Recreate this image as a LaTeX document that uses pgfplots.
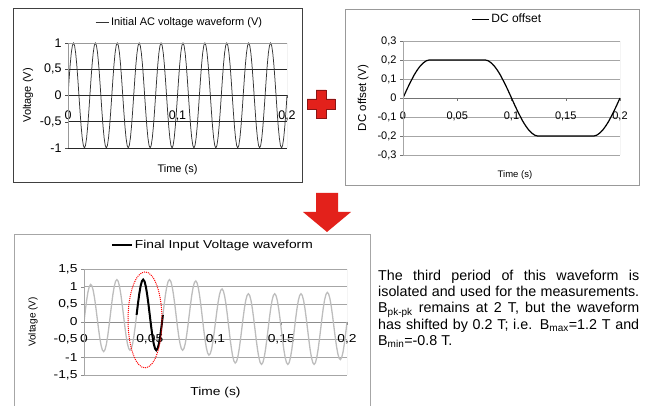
\documentclass[border=0pt]{standalone}
\usepackage{fontspec}
\setmainfont{Liberation Sans}
\newfontfamily\widesans[FakeStretch=1.2]{Liberation Sans}
\usepackage{pgfplots}
\usepackage{pgfplotstable}
\pgfplotsset{compat=1.18}
\hyphenpenalty=10000
\exhyphenpenalty=10000

\definecolor{arrowred}{HTML}{E3211B}
\definecolor{darkred}{HTML}{8A1414}
\definecolor{curvegray}{HTML}{BDBDBD}

% t = time (s), ac = initial sine, dc = offset, fin = ac + dc
\pgfplotstableread{
t ac dc fin
0.000 0 0 0
0.001 0.309 0.013 0.322
0.002 0.588 0.025 0.613
0.003 0.809 0.038 0.847
0.004 0.951 0.050 1.001
0.005 1 0.062 1.062
0.006 0.951 0.074 1.025
0.007 0.809 0.085 0.894
0.008 0.588 0.096 0.684
0.009 0.309 0.107 0.416
0.010 0 0.118 0.118
0.011 -0.309 0.128 -0.181
0.012 -0.588 0.137 -0.451
0.013 -0.809 0.146 -0.663
0.014 -0.951 0.154 -0.797
0.015 -1 0.162 -0.838
0.016 -0.951 0.169 -0.782
0.017 -0.809 0.175 -0.634
0.018 -0.588 0.181 -0.407
0.019 -0.309 0.186 -0.123
0.020 0 0.190 0.190
0.021 0.309 0.194 0.503
0.022 0.588 0.197 0.785
0.023 0.809 0.198 1.007
0.024 0.951 0.200 1.151
0.025 1 0.2 1.2
0.026 0.951 0.2 1.151
0.027 0.809 0.2 1.009
0.028 0.588 0.2 0.788
0.029 0.309 0.2 0.509
0.030 0 0.2 0.2
0.031 -0.309 0.2 -0.109
0.032 -0.588 0.2 -0.388
0.033 -0.809 0.2 -0.609
0.034 -0.951 0.2 -0.751
0.035 -1 0.2 -0.8
0.036 -0.951 0.2 -0.751
0.037 -0.809 0.2 -0.609
0.038 -0.588 0.2 -0.388
0.039 -0.309 0.2 -0.109
0.040 0 0.2 0.2
0.041 0.309 0.2 0.509
0.042 0.588 0.2 0.788
0.043 0.809 0.2 1.009
0.044 0.951 0.2 1.151
0.045 1 0.2 1.2
0.046 0.951 0.2 1.151
0.047 0.809 0.2 1.009
0.048 0.588 0.2 0.788
0.049 0.309 0.2 0.509
0.050 0 0.2 0.2
0.051 -0.309 0.2 -0.109
0.052 -0.588 0.2 -0.388
0.053 -0.809 0.2 -0.609
0.054 -0.951 0.2 -0.751
0.055 -1 0.2 -0.8
0.056 -0.951 0.2 -0.751
0.057 -0.809 0.2 -0.609
0.058 -0.588 0.2 -0.388
0.059 -0.309 0.2 -0.109
0.060 0 0.2 0.2
0.061 0.309 0.2 0.509
0.062 0.588 0.2 0.788
0.063 0.809 0.2 1.009
0.064 0.951 0.2 1.151
0.065 1 0.2 1.2
0.066 0.951 0.2 1.151
0.067 0.809 0.2 1.009
0.068 0.588 0.2 0.788
0.069 0.309 0.2 0.509
0.070 0 0.2 0.2
0.071 -0.309 0.2 -0.109
0.072 -0.588 0.2 -0.388
0.073 -0.809 0.2 -0.609
0.074 -0.951 0.2 -0.751
0.075 -1 0.2 -0.8
0.076 -0.951 0.200 -0.751
0.077 -0.809 0.198 -0.611
0.078 -0.588 0.197 -0.391
0.079 -0.309 0.194 -0.115
0.080 0 0.190 0.190
0.081 0.309 0.186 0.495
0.082 0.588 0.181 0.769
0.083 0.809 0.175 0.984
0.084 0.951 0.169 1.120
0.085 1 0.162 1.162
0.086 0.951 0.154 1.105
0.087 0.809 0.146 0.955
0.088 0.588 0.137 0.725
0.089 0.309 0.128 0.437
0.090 0 0.118 0.118
0.091 -0.309 0.107 -0.202
0.092 -0.588 0.096 -0.492
0.093 -0.809 0.085 -0.724
0.094 -0.951 0.074 -0.877
0.095 -1 0.062 -0.938
0.096 -0.951 0.050 -0.901
0.097 -0.809 0.038 -0.771
0.098 -0.588 0.025 -0.563
0.099 -0.309 0.013 -0.296
0.100 0 0 0
0.101 0.309 -0.013 0.296
0.102 0.588 -0.025 0.563
0.103 0.809 -0.038 0.771
0.104 0.951 -0.050 0.901
0.105 1 -0.062 0.938
0.106 0.951 -0.074 0.877
0.107 0.809 -0.085 0.724
0.108 0.588 -0.096 0.492
0.109 0.309 -0.107 0.202
0.110 0 -0.118 -0.118
0.111 -0.309 -0.128 -0.437
0.112 -0.588 -0.137 -0.725
0.113 -0.809 -0.146 -0.955
0.114 -0.951 -0.154 -1.105
0.115 -1 -0.162 -1.162
0.116 -0.951 -0.169 -1.120
0.117 -0.809 -0.175 -0.984
0.118 -0.588 -0.181 -0.769
0.119 -0.309 -0.186 -0.495
0.120 0 -0.190 -0.190
0.121 0.309 -0.194 0.115
0.122 0.588 -0.197 0.391
0.123 0.809 -0.198 0.611
0.124 0.951 -0.200 0.751
0.125 1 -0.2 0.8
0.126 0.951 -0.2 0.751
0.127 0.809 -0.2 0.609
0.128 0.588 -0.2 0.388
0.129 0.309 -0.2 0.109
0.130 0 -0.2 -0.2
0.131 -0.309 -0.2 -0.509
0.132 -0.588 -0.2 -0.788
0.133 -0.809 -0.2 -1.009
0.134 -0.951 -0.2 -1.151
0.135 -1 -0.2 -1.2
0.136 -0.951 -0.2 -1.151
0.137 -0.809 -0.2 -1.009
0.138 -0.588 -0.2 -0.788
0.139 -0.309 -0.2 -0.509
0.140 0 -0.2 -0.2
0.141 0.309 -0.2 0.109
0.142 0.588 -0.2 0.388
0.143 0.809 -0.2 0.609
0.144 0.951 -0.2 0.751
0.145 1 -0.2 0.8
0.146 0.951 -0.2 0.751
0.147 0.809 -0.2 0.609
0.148 0.588 -0.2 0.388
0.149 0.309 -0.2 0.109
0.150 0 -0.2 -0.2
0.151 -0.309 -0.2 -0.509
0.152 -0.588 -0.2 -0.788
0.153 -0.809 -0.2 -1.009
0.154 -0.951 -0.2 -1.151
0.155 -1 -0.2 -1.2
0.156 -0.951 -0.2 -1.151
0.157 -0.809 -0.2 -1.009
0.158 -0.588 -0.2 -0.788
0.159 -0.309 -0.2 -0.509
0.160 0 -0.2 -0.2
0.161 0.309 -0.2 0.109
0.162 0.588 -0.2 0.388
0.163 0.809 -0.2 0.609
0.164 0.951 -0.2 0.751
0.165 1 -0.2 0.8
0.166 0.951 -0.2 0.751
0.167 0.809 -0.2 0.609
0.168 0.588 -0.2 0.388
0.169 0.309 -0.2 0.109
0.170 0 -0.2 -0.2
0.171 -0.309 -0.2 -0.509
0.172 -0.588 -0.2 -0.788
0.173 -0.809 -0.2 -1.009
0.174 -0.951 -0.2 -1.151
0.175 -1 -0.2 -1.2
0.176 -0.951 -0.200 -1.151
0.177 -0.809 -0.198 -1.007
0.178 -0.588 -0.197 -0.785
0.179 -0.309 -0.194 -0.503
0.180 0 -0.190 -0.190
0.181 0.309 -0.186 0.123
0.182 0.588 -0.181 0.407
0.183 0.809 -0.175 0.634
0.184 0.951 -0.169 0.782
0.185 1 -0.162 0.838
0.186 0.951 -0.154 0.797
0.187 0.809 -0.146 0.663
0.188 0.588 -0.137 0.451
0.189 0.309 -0.128 0.181
0.190 0 -0.118 -0.118
0.191 -0.309 -0.107 -0.416
0.192 -0.588 -0.096 -0.684
0.193 -0.809 -0.085 -0.894
0.194 -0.951 -0.074 -1.025
0.195 -1 -0.062 -1.062
0.196 -0.951 -0.050 -1.001
0.197 -0.809 -0.038 -0.847
0.198 -0.588 -0.025 -0.613
0.199 -0.309 -0.013 -0.322
0.200 0 0 0
}\wave

\pgfplotsset{
  excel/.style={
    scale only axis,
    axis x line*=middle, axis y line*=left,
    hide obscured x ticks=false,
    xmin=0, xmax=0.2,
    tick align=outside,
    major tick length=3pt,
    legend style={draw=none, fill=none, anchor=center},
    ylabel style={anchor=center},
    xlabel style={anchor=center},
  },
}

\begin{document}
\begin{tikzpicture}
\useasboundingbox (0,0) rectangle (650pt,406pt);

% panel frames
\draw[black!75, line width=1pt] (13pt,223pt) rectangle (302pt,397pt);
\draw[black!40, line width=0.8pt] (345pt,221pt) rectangle (639pt,397pt);
\draw[black!35, line width=0.8pt] (14pt,0pt) -- (14pt,172pt) -- (370pt,172pt) -- (370pt,0pt);

% panel 1: initial AC waveform
\begin{axis}[excel,
    at={(68pt,258pt)}, anchor=south west,
    width=219pt, height=105pt,
    ymin=-1, ymax=1,
    ytick={-1,-0.5,0,0.5,1},
    yticklabels={-1,{-0,5},0,{0,5},1},
    xtick={0,0.1,0.2},
    xticklabels={0,{0,1},{0,2}},
    ymajorgrids, grid style={black!85, line width=0.6pt},
    axis line style={black!85},
    tick style={black!70},
    ticklabel style={font=\fontsize{12.5}{14}\selectfont},
    xticklabel style={yshift=-9pt},
    xlabel={Time (s)}, ylabel={Voltage (V)},
    xlabel style={at={(axis description cs:0.5,-0.21)}, font=\fontsize{11}{13}\selectfont},
    ylabel style={at={(axis description cs:-0.183,0.5)}, font=\fontsize{11}{13}\selectfont},
    legend style={at={(0.51,1.2)}, font=\fontsize{11}{13}\selectfont},
    legend image code/.code={\draw[#1] (0pt,0pt) -- (13pt,0pt);},
]
\addplot[black!80, line width=0.75pt] table[x=t, y=ac] {\wave};
\addlegendentry{Initial AC voltage waveform (V)}
\draw[black!40, line width=0.7pt] (rel axis cs:0,0) rectangle (rel axis cs:1,1);
\end{axis}

% panel 2: DC offset
\begin{axis}[excel,
    at={(403pt,251pt)}, anchor=south west,
    width=217pt, height=114pt,
    ymin=-0.3, ymax=0.3,
    ytick={-0.3,-0.2,-0.1,0,0.1,0.2,0.3},
    yticklabels={{-0,3},{-0,2},{-0,1},0,{0,1},{0,2},{0,3}},
    xtick={0,0.05,0.1,0.15,0.2},
    xticklabels={0,{0,05},{0,1},{0,15},{0,2}},
    ymajorgrids, grid style={black!35, line width=0.5pt},
    axis line style={black!55},
    tick style={black!55},
    ticklabel style={font=\fontsize{11}{13}\selectfont},
    xticklabel style={yshift=-7pt},
    xlabel={Time (s)}, ylabel={DC offset (V)},
    xlabel style={at={(axis description cs:0.516,-0.175)}, font=\fontsize{9.5}{11}\selectfont},
    ylabel style={at={(axis description cs:-0.184,0.5)}, font=\fontsize{11.5}{13}\selectfont},
    legend style={at={(0.48,1.19)}, font=\fontsize{12}{14}\selectfont},
    legend image code/.code={\draw[#1] (0pt,0pt) -- (17pt,0pt);},
]
\addplot[black, line width=1.2pt] table[x=t, y=dc] {\wave};
\addlegendentry{DC offset}
\draw[black!35, line width=0.6pt] (rel axis cs:0,0) rectangle (rel axis cs:1,1);
\end{axis}

% panel 3: final input waveform
\begin{axis}[excel,
    at={(84pt,31pt)}, anchor=south west,
    width=263pt, height=106pt,
    ymin=-1.5, ymax=1.5,
    ytick={-1.5,-1,-0.5,0,0.5,1,1.5},
    yticklabels={{-1,5},-1,{-0,5},0,{0,5},1,{1,5}},
    xtick={0,0.05,0.1,0.15,0.2},
    xticklabels={0,{0,05},{0,1},{0,15},{0,2}},
    ymajorgrids, grid style={black!35, line width=0.5pt},
    axis line style={black!45},
    tick style={black!45},
    ticklabel style={font=\widesans\fontsize{11.5}{13}\selectfont},
    xticklabel style={yshift=-6pt},
    xlabel={Time (s)}, ylabel={Voltage (V)},
    xlabel style={at={(axis description cs:0.5,-0.17)}, font=\widesans\fontsize{11.5}{13}\selectfont},
    ylabel style={at={(axis description cs:-0.194,0.5)}, font=\fontsize{10}{12}\selectfont},
    legend style={at={(0.49,1.23)}, font=\widesans\fontsize{11.5}{13}\selectfont},
    legend image code/.code={\draw[#1] (0pt,0pt) -- (20pt,0pt);},
]
\addplot[curvegray, line width=1.3pt, forget plot] table[x=t, y=fin] {\wave};
\addplot[black, line width=2pt,
    skip coords between index={0}{40},
    skip coords between index={61}{201}] table[x=t, y=fin] {\wave};
\addlegendentry{Final Input Voltage waveform}
\draw[red, densely dotted, line width=1pt] (axis cs:0.0464,0.06) ellipse [x radius=17pt, y radius=48pt];
\draw[black!35, line width=0.6pt] (rel axis cs:0,0) rectangle (rel axis cs:1,1);
\end{axis}

% red plus sign
\draw[fill=arrowred, draw=darkred, line width=0.6pt]
  (316pt,316pt) -- (326pt,316pt) -- (326pt,307pt) -- (335pt,307pt) -- (335pt,297pt)
  -- (326pt,297pt) -- (326pt,288pt) -- (316pt,288pt) -- (316pt,297pt) -- (307pt,297pt)
  -- (307pt,307pt) -- (316pt,307pt) -- cycle;

% red down arrow
\fill[arrowred] (316pt,213pt) -- (338pt,213pt) -- (338pt,194pt) -- (351pt,194pt)
  -- (327pt,174pt) -- (303pt,194pt) -- (316pt,194pt) -- cycle;

% explanation text
\node[anchor=north west, inner sep=0pt, text width=261pt, align=justify,
      font=\fontsize{14.3}{16.2}\selectfont] at (378pt,136pt)
  {The third period of this waveform is\linebreak
   isolated and used for the measurements.\linebreak
   B\textsubscript{pk-pk} remains at 2 T, but the waveform\linebreak
   has shifted by 0.2 T; i.e. B\textsubscript{max}=1.2 T and\linebreak
   B\textsubscript{min}=-0.8 T.};
\end{tikzpicture}
\end{document}
